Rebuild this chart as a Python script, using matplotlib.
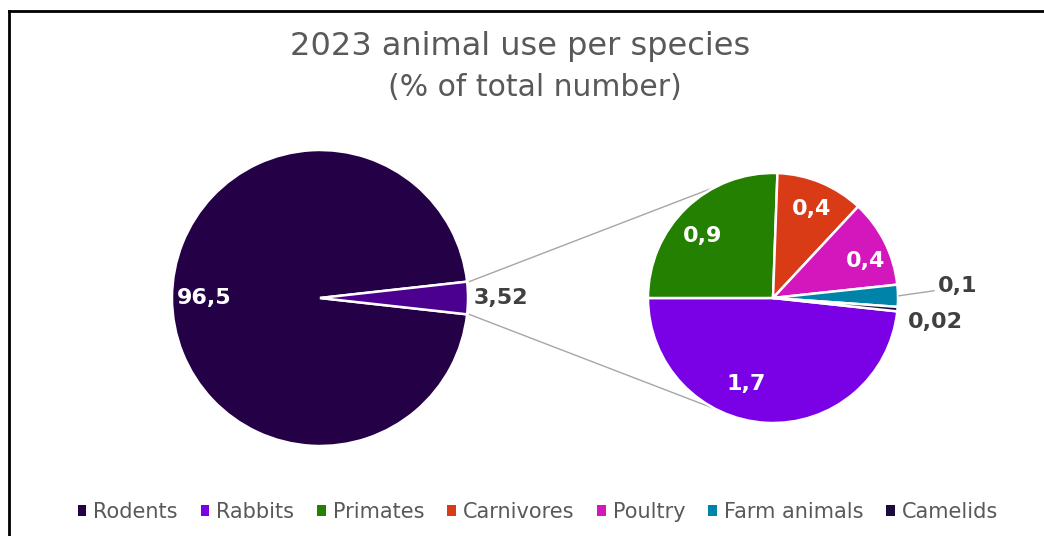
#!/usr/bin/env python3
#
# Pie-of-pie chart: share of animals used in 2023 per species

import numpy as np
import matplotlib.pyplot as plt
from matplotlib.lines import Line2D
from matplotlib.patches import Patch

species = ['Rodents', 'Rabbits', 'Primates', 'Carnivores', 'Poultry',
           'Farm animals', 'Camelids']
shares = [96.5, 1.7, 0.9, 0.4, 0.4, 0.1, 0.02]
labels = ['96,5', '1,7', '0,9', '0,4', '0,4', '0,1', '0,02']
other_label = '3,52'
colors = ['#240046', '#7a00e6', '#248000', '#d93b17', '#d417bd',
          '#0083a8', '#1b0a3c']
other_color = '#4b0090'

W, H = 1044, 536
fig = plt.figure(figsize=(W / 100, H / 100), dpi=100)
ax = fig.add_axes([0, 0, 1, 1])

main_c, main_r = (320, H - 298), 148
sub_c, sub_r = (773, H - 298), 125

# main pie: rodents plus everything else grouped in one slice
rest = shares[1:]
other = sum(rest)
main_vals = [shares[0], other]
other_deg = other / sum(main_vals) * 360
ax.pie(main_vals, colors=[colors[0], other_color], startangle=other_deg / 2,
       center=main_c, radius=main_r, frame=True,
       wedgeprops=dict(edgecolor='white', linewidth=1.8))

ax.text(main_c[0] - 0.78 * main_r, main_c[1], labels[0], color='white',
        fontsize=16, fontweight='bold', ha='center', va='center')
ax.text(main_c[0] + 1.22 * main_r, main_c[1], other_label, color='#404040',
        fontsize=16, fontweight='bold', ha='center', va='center')

# secondary pie, clockwise, rabbits ending at the left
rest_deg = np.array(rest) / other * 360
start = 180 + rest_deg[0]
wedges, _ = ax.pie(rest, colors=colors[1:], startangle=start,
                   counterclock=False, center=sub_c, radius=sub_r, frame=True,
                   wedgeprops=dict(edgecolor='white', linewidth=1.8))

# labels inside the big wedges
inner = [(0.72, -14), (0.75, 5), (0.78, -1), (0.8, -5)]
for w, lab, (frac, dang) in zip(wedges[:4], labels[1:5], inner):
    mid = np.deg2rad((w.theta1 + w.theta2) / 2 + dang)
    ax.text(sub_c[0] + frac * sub_r * np.cos(mid),
            sub_c[1] + frac * sub_r * np.sin(mid), lab, color='white',
            fontsize=16, fontweight='bold', ha='center', va='center')

# small wedges labelled outside
w = wedges[4]
mid = np.deg2rad((w.theta1 + w.theta2) / 2)
p0 = (sub_c[0] + sub_r * np.cos(mid), sub_c[1] + sub_r * np.sin(mid))
ax.plot([p0[0] + 1, p0[0] + 36], [p0[1], p0[1] + 5], color='#a6a6a6', lw=1)
ax.text(p0[0] + 60, p0[1] + 10, labels[5], color='#404040', fontsize=16,
        fontweight='bold', ha='center', va='center')
w = wedges[5]
mid = np.deg2rad((w.theta1 + w.theta2) / 2)
ax.text(sub_c[0] + sub_r * np.cos(mid) + 38, sub_c[1] + sub_r * np.sin(mid) - 13,
        labels[6], color='#404040', fontsize=16, fontweight='bold',
        ha='center', va='center')

# connector lines between the pies
for sgn in (1, -1):
    a0 = np.deg2rad(sgn * other_deg / 2)
    a1 = np.deg2rad(sgn * 117)
    ax.plot([main_c[0] + main_r * np.cos(a0) + 2, sub_c[0] + sub_r * np.cos(a1)],
            [main_c[1] + main_r * np.sin(a0), sub_c[1] + sub_r * np.sin(a1)],
            color='#a6a6a6', lw=1, zorder=0)

ax.set_xlim(0, W)
ax.set_ylim(0, H)
ax.set_aspect('equal')
ax.axis('off')

fig.text(520 / W, 1 - 47 / H, '2023 animal use per species', color='#595959',
         fontsize=23, ha='center', va='center')
fig.text(535 / W, 1 - 88 / H, '(% of total number)', color='#595959',
         fontsize=21.5, ha='center', va='center')

handles = [Patch(facecolor=c, edgecolor='none') for c in colors]
fig.legend(handles, species, loc='center', bbox_to_anchor=(538 / W, 1 - 512 / H),
           ncol=7, frameon=False, fontsize=15, labelcolor='#595959',
           handlelength=0.4, handleheight=0.4, handletextpad=0.35,
           columnspacing=1.1)

# chart border (top and left edges)
fig.add_artist(Line2D([9 / W, 1], [1 - 11 / H, 1 - 11 / H], color='black', lw=2))
fig.add_artist(Line2D([9 / W, 9 / W], [0, 1 - 11 / H], color='black', lw=2))

fig.savefig('out.png', dpi=100)
